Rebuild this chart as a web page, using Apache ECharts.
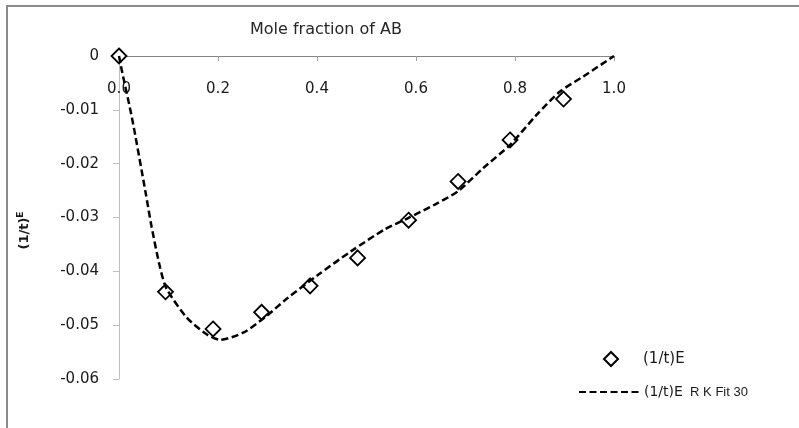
<!DOCTYPE html>
<html>
<head>
<meta charset="utf-8">
<script src="https://cdn.jsdelivr.net/npm/echarts@6/dist/echarts.min.js"></script>
<style>
html,body{margin:0;padding:0;background:#fff;}
#chart{width:799px;height:428px;}
</style>
</head>
<body>
<div id="chart"></div>
<script>
// Measured (1/t)^E values
const measuredX = [0.000, 0.094, 0.190, 0.288, 0.386, 0.482, 0.585, 0.685, 0.790, 0.898];
const measuredY = [0.0000, -0.0438, -0.0507, -0.0476, -0.0427, -0.0375, -0.0305, -0.0233, -0.0156, -0.0080];
// Redlich-Kister fit curve
const fitX = [0.000, 0.0055, 0.026, 0.054, 0.066, 0.083, 0.096, 0.137, 0.177, 0.204, 0.251, 0.298, 0.340, 0.403, 0.470, 0.537, 0.584, 0.638, 0.685, 0.736, 0.790, 0.844, 0.891, 0.938, 1.000];
const fitY = [0.0000, -0.0026, -0.0114, -0.0255, -0.0318, -0.0393, -0.0432, -0.0486, -0.0517, -0.0527, -0.0514, -0.0483, -0.0450, -0.0406, -0.0362, -0.0322, -0.0301, -0.0276, -0.0251, -0.0208, -0.0165, -0.0109, -0.0066, -0.0038, 0.0000];
const xTicks = [0.0, 0.2, 0.4, 0.6, 0.8, 1.0];
const yTicks = [0, -0.01, -0.02, -0.03, -0.04, -0.05, -0.06];
const seriesNames = ['(1/t)E', '(1/t)E  R K Fit 30'];
const xTitle = 'Mole fraction of AB';

const chart = echarts.init(document.getElementById('chart'), null, {renderer: 'canvas'});
const FONT = 'DejaVu Sans';
const option = {
  animation: false,
  backgroundColor: '#ffffff',
  title: {
    text: xTitle,
    left: 250, top: 22, padding: 0,
    textStyle: {fontFamily: FONT, fontSize: 16, fontWeight: 'normal', color: '#262626'}
  },
  graphic: [{
    type: 'rect', silent: true,
    shape: {x: 7, y: 6, width: 900, height: 500},
    style: {fill: 'none', stroke: '#8c8c8c', lineWidth: 2}
  }],
  grid: {left: 119, top: 56, right: 185, bottom: 49, containLabel: false},
  xAxis: {
    type: 'value', position: 'top',
    min: xTicks[0], max: xTicks[xTicks.length - 1], interval: 0.2,
    axisLine: {onZero: false, lineStyle: {color: '#868686', width: 1}},
    axisTick: {inside: true, length: 5, lineStyle: {color: '#a0a0a0'}},
    axisLabel: {inside: true, margin: 26, fontFamily: FONT, fontSize: 15, color: '#1a1a1a',
      formatter: v => v.toFixed(1)},
    splitLine: {show: false}
  },
  yAxis: {
    type: 'value',
    min: yTicks[yTicks.length - 1], max: yTicks[0], interval: 0.01,
    name: '{a|(1/t)}{b|E}',
    nameLocation: 'middle', nameGap: 86, nameRotate: 90,
    nameTextStyle: {
      padding: [0, 26, 0, 0],
      rich: {
        a: {fontFamily: FONT, fontSize: 13, fontWeight: 'bold', color: '#1a1a1a'},
        b: {fontFamily: FONT, fontSize: 9, fontWeight: 'bold', color: '#1a1a1a', verticalAlign: 'top', padding: [0, 0, 8, 0]}
      }
    },
    axisLine: {show: true, onZero: false, lineStyle: {color: '#bfbfbf', width: 1}},
    axisTick: {show: true, length: 6, lineStyle: {color: '#bfbfbf'}},
    axisLabel: {margin: 20, fontFamily: FONT, fontSize: 15, color: '#1a1a1a',
      formatter: v => (Math.abs(v) < 1e-9 ? '0' : v.toFixed(2))},
    splitLine: {show: false}
  },
  legend: [{
    data: [seriesNames[0]],
    left: 603, top: 351, padding: 0,
    itemWidth: 14, itemHeight: 14,
    formatter: function (n) { return '{p|}{a|' + n + '}'; },
    textStyle: {
      fontFamily: FONT, fontSize: 15, color: '#1a1a1a',
      rich: {p: {width: 20}, a: {fontFamily: FONT, fontSize: 15, color: '#1a1a1a'}}
    }
  }, {
    data: [seriesNames[1]],
    left: 578, top: 385, padding: 0,
    itemWidth: 60, itemHeight: 14,
    itemStyle: {opacity: 0},
    formatter: function (n) { return '{a|(1/t)E}{b|  R K Fit 30}'; },
    textStyle: {
      fontFamily: FONT, fontSize: 14, color: '#1a1a1a',
      rich: {
        a: {fontFamily: FONT, fontSize: 14, lineHeight: 16, color: '#1a1a1a', verticalAlign: 'middle'},
        b: {fontFamily: 'Liberation Sans', fontSize: 13, lineHeight: 16, color: '#1a1a1a', verticalAlign: 'middle'}
      }
    }
  }],
  series: [{
    name: seriesNames[0],
    type: 'scatter',
    data: measuredX.map((x, i) => [x, measuredY[i]]),
    symbol: 'diamond', symbolSize: 15,
    itemStyle: {color: '#ffffff', borderColor: '#000000', borderWidth: 1.8, opacity: 1},
    z: 2
  }, {
    name: seriesNames[1],
    type: 'line',
    data: fitX.map((x, i) => [x, fitY[i]]),
    symbol: 'none', showSymbol: false,
    smooth: 0.25,
    lineStyle: {color: '#000000', width: 2.5, type: [7, 3.5]},
    itemStyle: {color: '#000000'},
    z: 3
  }]
};
chart.setOption(option);
</script>
</body>
</html>
